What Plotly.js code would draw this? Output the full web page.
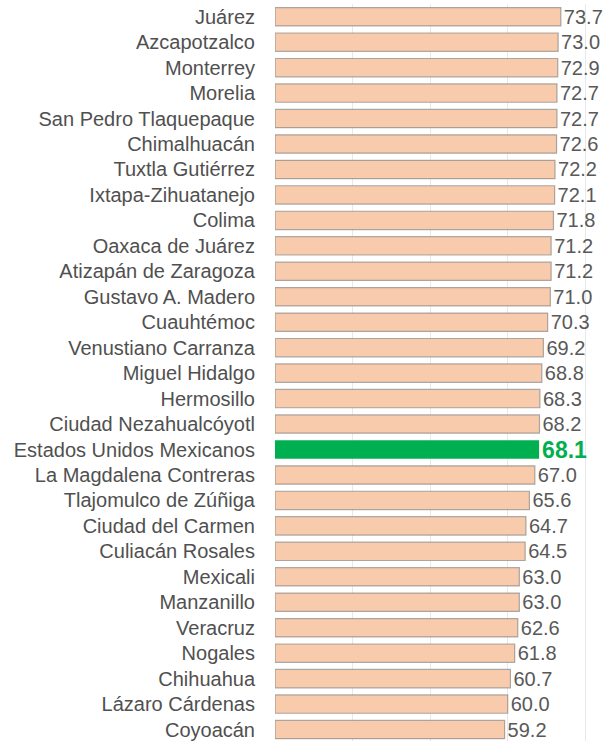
<!DOCTYPE html>
<html>
<head>
<meta charset="utf-8">
<script src="https://cdn.plot.ly/plotly-3.0.1.min.js"></script>
<style>html,body{margin:0;padding:0;background:#fff;}#chart{width:608px;height:741px;}</style>
</head>
<body>
<div id="chart"></div>
<script>
const categories = ["Juárez","Azcapotzalco","Monterrey","Morelia","San Pedro Tlaquepaque","Chimalhuacán","Tuxtla Gutiérrez","Ixtapa-Zihuatanejo","Colima","Oaxaca de Juárez","Atizapán de Zaragoza","Gustavo A. Madero","Cuauhtémoc","Venustiano Carranza","Miguel Hidalgo","Hermosillo","Ciudad Nezahualcóyotl","Estados Unidos Mexicanos","La Magdalena Contreras","Tlajomulco de Zúñiga","Ciudad del Carmen","Culiacán Rosales","Mexicali","Manzanillo","Veracruz","Nogales","Chihuahua","Lázaro Cárdenas","Coyoacán"];
const values = [73.7,73.0,72.9,72.7,72.7,72.6,72.2,72.1,71.8,71.2,71.2,71.0,70.3,69.2,68.8,68.3,68.2,68.1,67.0,65.6,64.7,64.5,63.0,63.0,62.6,61.8,60.7,60.0,59.2];
const highlight = "Estados Unidos Mexicanos";

const otherCats = [], otherVals = [], hiCats = [], hiVals = [];
categories.forEach((c, i) => {
  if (c === highlight) { hiCats.push(c); hiVals.push(values[i]); }
  else { otherCats.push(c); otherVals.push(values[i]); }
});

const traces = [
  {
    type: 'bar', orientation: 'h', x: otherVals, y: otherCats,
    marker: {color: '#f8cbad', line: {color: 'rgba(120,120,120,0.6)', width: 1.2}},
    text: otherVals.map(v => v.toFixed(1)), textposition: 'outside', constraintext: 'none',
    textfont: {family: 'Liberation Sans, Arial, sans-serif', size: 20, color: '#595959'},
    cliponaxis: false, hoverinfo: 'skip'
  },
  {
    type: 'bar', orientation: 'h', x: hiVals, y: hiCats,
    marker: {color: '#00b050', line: {width: 0}},
    text: hiVals.map(v => v.toFixed(1)), textposition: 'outside', constraintext: 'none',
    textfont: {family: 'Liberation Sans, Arial, sans-serif', size: 23, color: '#00b050', weight: 'bold'},
    cliponaxis: false, hoverinfo: 'skip'
  }
];

const layout = {
  width: 608, height: 741,
  margin: {l: 275, r: 8, t: 4, b: 0},
  paper_bgcolor: '#ffffff', plot_bgcolor: '#ffffff',
  showlegend: false,
  barmode: 'overlay', bargap: 0.28,
  font: {family: 'Liberation Sans, Arial, sans-serif', size: 20, color: '#595959'},
  xaxis: {range: [0, 83.8], dtick: 20, tick0: 0, showgrid: true, gridcolor: '#e8e8e8', gridwidth: 1,
          zeroline: false, showticklabels: false, showline: false, fixedrange: true},
  yaxis: {type: 'category', categoryorder: 'array', categoryarray: categories,
          range: [28.45, -0.5], showgrid: false, zeroline: false, showline: false,
          ticks: 'outside', ticklen: 15, tickcolor: 'rgba(0,0,0,0)',
          tickfont: {family: 'Liberation Sans, Arial, sans-serif', size: 20, color: '#505050'}}
};

Plotly.newPlot('chart', traces, layout, {displayModeBar: false, staticPlot: true});
</script>
</body>
</html>
